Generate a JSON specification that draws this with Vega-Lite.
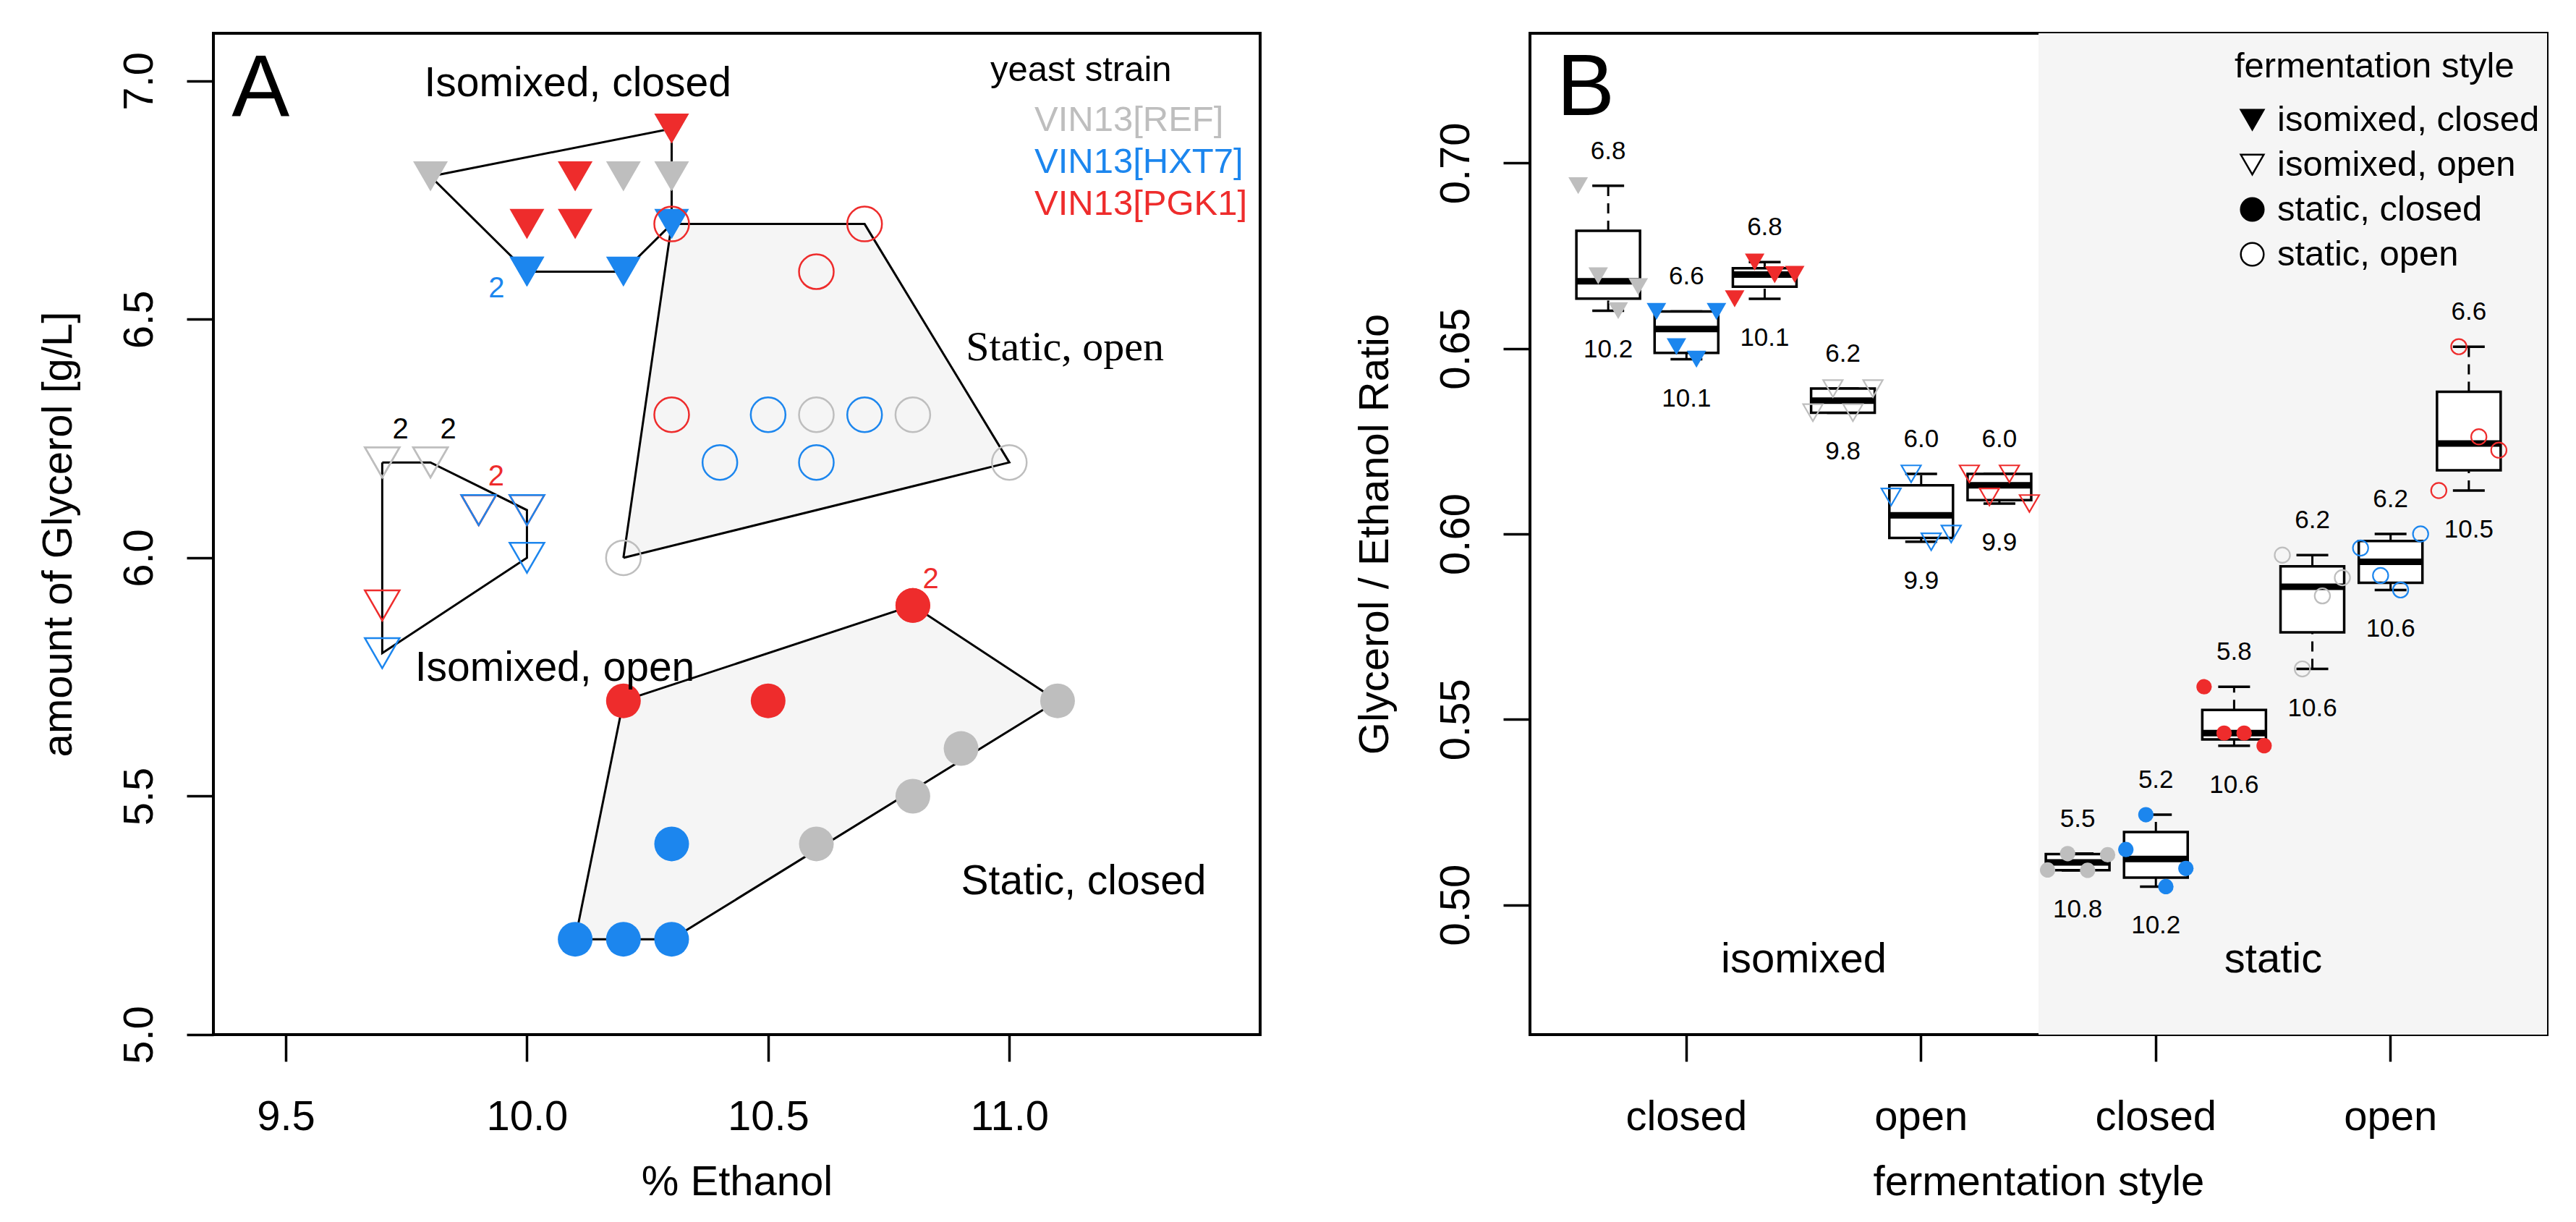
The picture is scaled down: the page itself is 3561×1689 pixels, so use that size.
{
  "$schema": "https://vega.github.io/schema/vega-lite/v6.json",
  "background": "white",
  "padding": {"left": 50, "top": 44, "right": 5, "bottom": 5},
  "bounds": "flush",
  "spacing": 373,
  "config": {
    "font": "Liberation Sans",
    "view": {"stroke": "black", "strokeWidth": 4, "fill": "white"},
    "axis": {
      "grid": false, "domain": false, "ticks": true, "tickSize": 37, "tickWidth": 3.5, "tickColor": "black",
      "labelFont": "Liberation Sans", "labelFontSize": 58, "labelColor": "black", "labelFlush": false, "labelOverlap": false,
      "titleFont": "Liberation Sans", "titleFontSize": 58, "titleFontWeight": "normal", "titleColor": "black"
    },
    "axisX": {"labelBaseline": "alphabetic", "labelPadding": 94, "labelAngle": 0, "titleBaseline": "alphabetic", "titleY": 221},
    "axisY": {"labelAngle": 270, "labelAlign": "center", "labelBaseline": "alphabetic", "labelPadding": 48, "titleAngle": 270, "titleBaseline": "alphabetic", "titleX": -197},
    "text": {"font": "Liberation Sans", "color": "black"}
  },
  "resolve": {
    "scale": {"color": "independent", "shape": "independent", "size": "independent", "fill": "independent", "stroke": "independent"},
    "legend": {"color": "independent", "shape": "independent", "size": "independent", "fill": "independent", "stroke": "independent"}
  },
  "datasets": {
    "ptsA": [
      {"style": "isomixed, closed", "strain": "VIN13[REF]", "ethanol": 9.8, "glycerol": 6.8},
      {"style": "isomixed, closed", "strain": "VIN13[REF]", "ethanol": 10.2, "glycerol": 6.8},
      {"style": "isomixed, closed", "strain": "VIN13[REF]", "ethanol": 10.3, "glycerol": 6.8},
      {"style": "isomixed, closed", "strain": "VIN13[REF]", "ethanol": 10.3, "glycerol": 6.9},
      {"style": "isomixed, closed", "strain": "VIN13[HXT7]", "ethanol": 10.0, "glycerol": 6.6},
      {"style": "isomixed, closed", "strain": "VIN13[HXT7]", "ethanol": 10.0, "glycerol": 6.6},
      {"style": "isomixed, closed", "strain": "VIN13[HXT7]", "ethanol": 10.2, "glycerol": 6.6},
      {"style": "isomixed, closed", "strain": "VIN13[HXT7]", "ethanol": 10.3, "glycerol": 6.7},
      {"style": "isomixed, closed", "strain": "VIN13[PGK1]", "ethanol": 10.0, "glycerol": 6.7},
      {"style": "isomixed, closed", "strain": "VIN13[PGK1]", "ethanol": 10.1, "glycerol": 6.7},
      {"style": "isomixed, closed", "strain": "VIN13[PGK1]", "ethanol": 10.1, "glycerol": 6.8},
      {"style": "isomixed, closed", "strain": "VIN13[PGK1]", "ethanol": 10.3, "glycerol": 6.9},
      {"style": "isomixed, open", "strain": "VIN13[REF]", "ethanol": 9.7, "glycerol": 6.2},
      {"style": "isomixed, open", "strain": "VIN13[REF]", "ethanol": 9.7, "glycerol": 6.2},
      {"style": "isomixed, open", "strain": "VIN13[REF]", "ethanol": 9.8, "glycerol": 6.2},
      {"style": "isomixed, open", "strain": "VIN13[REF]", "ethanol": 9.8, "glycerol": 6.2},
      {"style": "isomixed, open", "strain": "VIN13[PGK1]", "ethanol": 9.7, "glycerol": 5.9},
      {"style": "isomixed, open", "strain": "VIN13[PGK1]", "ethanol": 9.9, "glycerol": 6.1},
      {"style": "isomixed, open", "strain": "VIN13[PGK1]", "ethanol": 9.9, "glycerol": 6.1},
      {"style": "isomixed, open", "strain": "VIN13[PGK1]", "ethanol": 10.0, "glycerol": 6.1},
      {"style": "isomixed, open", "strain": "VIN13[HXT7]", "ethanol": 9.9, "glycerol": 6.1},
      {"style": "isomixed, open", "strain": "VIN13[HXT7]", "ethanol": 10.0, "glycerol": 6.1},
      {"style": "isomixed, open", "strain": "VIN13[HXT7]", "ethanol": 10.0, "glycerol": 6.0},
      {"style": "isomixed, open", "strain": "VIN13[HXT7]", "ethanol": 9.7, "glycerol": 5.8},
      {"style": "static, open", "strain": "VIN13[PGK1]", "ethanol": 10.3, "glycerol": 6.7},
      {"style": "static, open", "strain": "VIN13[PGK1]", "ethanol": 10.7, "glycerol": 6.7},
      {"style": "static, open", "strain": "VIN13[PGK1]", "ethanol": 10.6, "glycerol": 6.6},
      {"style": "static, open", "strain": "VIN13[PGK1]", "ethanol": 10.3, "glycerol": 6.3},
      {"style": "static, open", "strain": "VIN13[HXT7]", "ethanol": 10.5, "glycerol": 6.3},
      {"style": "static, open", "strain": "VIN13[HXT7]", "ethanol": 10.7, "glycerol": 6.3},
      {"style": "static, open", "strain": "VIN13[HXT7]", "ethanol": 10.4, "glycerol": 6.2},
      {"style": "static, open", "strain": "VIN13[HXT7]", "ethanol": 10.6, "glycerol": 6.2},
      {"style": "static, open", "strain": "VIN13[REF]", "ethanol": 10.6, "glycerol": 6.3},
      {"style": "static, open", "strain": "VIN13[REF]", "ethanol": 10.8, "glycerol": 6.3},
      {"style": "static, open", "strain": "VIN13[REF]", "ethanol": 11.0, "glycerol": 6.2},
      {"style": "static, open", "strain": "VIN13[REF]", "ethanol": 10.2, "glycerol": 6.0},
      {"style": "static, closed", "strain": "VIN13[PGK1]", "ethanol": 10.2, "glycerol": 5.7},
      {"style": "static, closed", "strain": "VIN13[PGK1]", "ethanol": 10.5, "glycerol": 5.7},
      {"style": "static, closed", "strain": "VIN13[PGK1]", "ethanol": 10.8, "glycerol": 5.9},
      {"style": "static, closed", "strain": "VIN13[PGK1]", "ethanol": 10.8, "glycerol": 5.9},
      {"style": "static, closed", "strain": "VIN13[REF]", "ethanol": 10.6, "glycerol": 5.4},
      {"style": "static, closed", "strain": "VIN13[REF]", "ethanol": 10.8, "glycerol": 5.5},
      {"style": "static, closed", "strain": "VIN13[REF]", "ethanol": 10.9, "glycerol": 5.6},
      {"style": "static, closed", "strain": "VIN13[REF]", "ethanol": 11.1, "glycerol": 5.7},
      {"style": "static, closed", "strain": "VIN13[HXT7]", "ethanol": 10.1, "glycerol": 5.2},
      {"style": "static, closed", "strain": "VIN13[HXT7]", "ethanol": 10.2, "glycerol": 5.2},
      {"style": "static, closed", "strain": "VIN13[HXT7]", "ethanol": 10.3, "glycerol": 5.2},
      {"style": "static, closed", "strain": "VIN13[HXT7]", "ethanol": 10.3, "glycerol": 5.4}
    ],
    "hulls": [
      {"hull": "isomixed, closed", "ord": 1, "ethanol": 9.8, "glycerol": 6.8},
      {"hull": "isomixed, closed", "ord": 2, "ethanol": 10.3, "glycerol": 6.9},
      {"hull": "isomixed, closed", "ord": 3, "ethanol": 10.3, "glycerol": 6.7},
      {"hull": "isomixed, closed", "ord": 4, "ethanol": 10.2, "glycerol": 6.6},
      {"hull": "isomixed, closed", "ord": 5, "ethanol": 10.0, "glycerol": 6.6},
      {"hull": "isomixed, closed", "ord": 6, "ethanol": 9.8, "glycerol": 6.8},
      {"hull": "isomixed, open", "ord": 1, "ethanol": 9.7, "glycerol": 6.2},
      {"hull": "isomixed, open", "ord": 2, "ethanol": 9.8, "glycerol": 6.2},
      {"hull": "isomixed, open", "ord": 3, "ethanol": 10.0, "glycerol": 6.1},
      {"hull": "isomixed, open", "ord": 4, "ethanol": 10.0, "glycerol": 6.0},
      {"hull": "isomixed, open", "ord": 5, "ethanol": 9.7, "glycerol": 5.8},
      {"hull": "isomixed, open", "ord": 6, "ethanol": 9.7, "glycerol": 6.2},
      {"hull": "static, open", "ord": 1, "ethanol": 10.2, "glycerol": 6.0},
      {"hull": "static, open", "ord": 2, "ethanol": 10.3, "glycerol": 6.7},
      {"hull": "static, open", "ord": 3, "ethanol": 10.7, "glycerol": 6.7},
      {"hull": "static, open", "ord": 4, "ethanol": 11.0, "glycerol": 6.2},
      {"hull": "static, open", "ord": 5, "ethanol": 10.2, "glycerol": 6.0},
      {"hull": "static, closed", "ord": 1, "ethanol": 10.1, "glycerol": 5.2},
      {"hull": "static, closed", "ord": 2, "ethanol": 10.2, "glycerol": 5.7},
      {"hull": "static, closed", "ord": 3, "ethanol": 10.8, "glycerol": 5.9},
      {"hull": "static, closed", "ord": 4, "ethanol": 11.1, "glycerol": 5.7},
      {"hull": "static, closed", "ord": 5, "ethanol": 10.3, "glycerol": 5.2},
      {"hull": "static, closed", "ord": 6, "ethanol": 10.1, "glycerol": 5.2}
    ],
    "countsA": [
      {"strain": "VIN13[REF]", "ethanol": 9.738, "glycerol": 6.269, "n": "2"},
      {"strain": "VIN13[REF]", "ethanol": 9.837, "glycerol": 6.269, "n": "2"},
      {"strain": "VIN13[PGK1]", "ethanol": 9.936, "glycerol": 6.17, "n": "2"},
      {"strain": "VIN13[HXT7]", "ethanol": 9.937, "glycerol": 6.564, "n": "2"},
      {"strain": "VIN13[PGK1]", "ethanol": 10.837, "glycerol": 5.955, "n": "2"}
    ],
    "notesA": [
      {"note": "Isomixed, closed", "face": "sans", "ethanol": 9.787, "glycerol": 6.994},
      {"note": "Isomixed, open", "face": "sans", "ethanol": 9.768, "glycerol": 5.768},
      {"note": "Static, closed", "face": "sans", "ethanol": 10.9, "glycerol": 5.32},
      {"note": "Static, open", "face": "serif", "ethanol": 10.91, "glycerol": 6.44},
      {"note": "A", "face": "letter", "ethanol": 9.388, "glycerol": 6.982}
    ],
    "ptsB": [
      {"group": "isomixed, closed / VIN13[REF]", "style": "isomixed, closed", "strain": "VIN13[REF]", "rep": 1, "ratio": 0.6939, "gly": "6.8", "eth": "10.2"},
      {"group": "isomixed, closed / VIN13[REF]", "style": "isomixed, closed", "strain": "VIN13[REF]", "rep": 2, "ratio": 0.6696, "gly": "6.8", "eth": "10.2"},
      {"group": "isomixed, closed / VIN13[REF]", "style": "isomixed, closed", "strain": "VIN13[REF]", "rep": 3, "ratio": 0.6602, "gly": "6.8", "eth": "10.2"},
      {"group": "isomixed, closed / VIN13[REF]", "style": "isomixed, closed", "strain": "VIN13[REF]", "rep": 4, "ratio": 0.6667, "gly": "6.8", "eth": "10.2"},
      {"group": "isomixed, closed / VIN13[HXT7]", "style": "isomixed, closed", "strain": "VIN13[HXT7]", "rep": 1, "ratio": 0.66, "gly": "6.6", "eth": "10.1"},
      {"group": "isomixed, closed / VIN13[HXT7]", "style": "isomixed, closed", "strain": "VIN13[HXT7]", "rep": 2, "ratio": 0.6505, "gly": "6.6", "eth": "10.1"},
      {"group": "isomixed, closed / VIN13[HXT7]", "style": "isomixed, closed", "strain": "VIN13[HXT7]", "rep": 3, "ratio": 0.6471, "gly": "6.6", "eth": "10.1"},
      {"group": "isomixed, closed / VIN13[HXT7]", "style": "isomixed, closed", "strain": "VIN13[HXT7]", "rep": 4, "ratio": 0.66, "gly": "6.6", "eth": "10.1"},
      {"group": "isomixed, closed / VIN13[PGK1]", "style": "isomixed, closed", "strain": "VIN13[PGK1]", "rep": 1, "ratio": 0.6634, "gly": "6.8", "eth": "10.1"},
      {"group": "isomixed, closed / VIN13[PGK1]", "style": "isomixed, closed", "strain": "VIN13[PGK1]", "rep": 2, "ratio": 0.6733, "gly": "6.8", "eth": "10.1"},
      {"group": "isomixed, closed / VIN13[PGK1]", "style": "isomixed, closed", "strain": "VIN13[PGK1]", "rep": 3, "ratio": 0.6699, "gly": "6.8", "eth": "10.1"},
      {"group": "isomixed, closed / VIN13[PGK1]", "style": "isomixed, closed", "strain": "VIN13[PGK1]", "rep": 4, "ratio": 0.67, "gly": "6.8", "eth": "10.1"},
      {"group": "isomixed, open / VIN13[REF]", "style": "isomixed, open", "strain": "VIN13[REF]", "rep": 1, "ratio": 0.6327, "gly": "6.2", "eth": "9.8"},
      {"group": "isomixed, open / VIN13[REF]", "style": "isomixed, open", "strain": "VIN13[REF]", "rep": 2, "ratio": 0.6392, "gly": "6.2", "eth": "9.8"},
      {"group": "isomixed, open / VIN13[REF]", "style": "isomixed, open", "strain": "VIN13[REF]", "rep": 3, "ratio": 0.6327, "gly": "6.2", "eth": "9.8"},
      {"group": "isomixed, open / VIN13[REF]", "style": "isomixed, open", "strain": "VIN13[REF]", "rep": 4, "ratio": 0.6392, "gly": "6.2", "eth": "9.8"},
      {"group": "isomixed, open / VIN13[HXT7]", "style": "isomixed, open", "strain": "VIN13[HXT7]", "rep": 1, "ratio": 0.61, "gly": "6.0", "eth": "9.9"},
      {"group": "isomixed, open / VIN13[HXT7]", "style": "isomixed, open", "strain": "VIN13[HXT7]", "rep": 2, "ratio": 0.6162, "gly": "6.0", "eth": "9.9"},
      {"group": "isomixed, open / VIN13[HXT7]", "style": "isomixed, open", "strain": "VIN13[HXT7]", "rep": 3, "ratio": 0.5979, "gly": "6.0", "eth": "9.9"},
      {"group": "isomixed, open / VIN13[HXT7]", "style": "isomixed, open", "strain": "VIN13[HXT7]", "rep": 4, "ratio": 0.6, "gly": "6.0", "eth": "9.9"},
      {"group": "isomixed, open / VIN13[PGK1]", "style": "isomixed, open", "strain": "VIN13[PGK1]", "rep": 1, "ratio": 0.6162, "gly": "6.0", "eth": "9.9"},
      {"group": "isomixed, open / VIN13[PGK1]", "style": "isomixed, open", "strain": "VIN13[PGK1]", "rep": 2, "ratio": 0.61, "gly": "6.0", "eth": "9.9"},
      {"group": "isomixed, open / VIN13[PGK1]", "style": "isomixed, open", "strain": "VIN13[PGK1]", "rep": 3, "ratio": 0.6162, "gly": "6.0", "eth": "9.9"},
      {"group": "isomixed, open / VIN13[PGK1]", "style": "isomixed, open", "strain": "VIN13[PGK1]", "rep": 4, "ratio": 0.6082, "gly": "6.0", "eth": "9.9"},
      {"group": "static, closed / VIN13[REF]", "style": "static, closed", "strain": "VIN13[REF]", "rep": 1, "ratio": 0.5094, "gly": "5.5", "eth": "10.8"},
      {"group": "static, closed / VIN13[REF]", "style": "static, closed", "strain": "VIN13[REF]", "rep": 2, "ratio": 0.5138, "gly": "5.5", "eth": "10.8"},
      {"group": "static, closed / VIN13[REF]", "style": "static, closed", "strain": "VIN13[REF]", "rep": 3, "ratio": 0.5093, "gly": "5.5", "eth": "10.8"},
      {"group": "static, closed / VIN13[REF]", "style": "static, closed", "strain": "VIN13[REF]", "rep": 4, "ratio": 0.5135, "gly": "5.5", "eth": "10.8"},
      {"group": "static, closed / VIN13[HXT7]", "style": "static, closed", "strain": "VIN13[HXT7]", "rep": 1, "ratio": 0.5149, "gly": "5.2", "eth": "10.2"},
      {"group": "static, closed / VIN13[HXT7]", "style": "static, closed", "strain": "VIN13[HXT7]", "rep": 2, "ratio": 0.5243, "gly": "5.2", "eth": "10.2"},
      {"group": "static, closed / VIN13[HXT7]", "style": "static, closed", "strain": "VIN13[HXT7]", "rep": 3, "ratio": 0.5049, "gly": "5.2", "eth": "10.2"},
      {"group": "static, closed / VIN13[HXT7]", "style": "static, closed", "strain": "VIN13[HXT7]", "rep": 4, "ratio": 0.5098, "gly": "5.2", "eth": "10.2"},
      {"group": "static, closed / VIN13[PGK1]", "style": "static, closed", "strain": "VIN13[PGK1]", "rep": 1, "ratio": 0.5588, "gly": "5.8", "eth": "10.6"},
      {"group": "static, closed / VIN13[PGK1]", "style": "static, closed", "strain": "VIN13[PGK1]", "rep": 2, "ratio": 0.5463, "gly": "5.8", "eth": "10.6"},
      {"group": "static, closed / VIN13[PGK1]", "style": "static, closed", "strain": "VIN13[PGK1]", "rep": 3, "ratio": 0.5463, "gly": "5.8", "eth": "10.6"},
      {"group": "static, closed / VIN13[PGK1]", "style": "static, closed", "strain": "VIN13[PGK1]", "rep": 4, "ratio": 0.5429, "gly": "5.8", "eth": "10.6"},
      {"group": "static, open / VIN13[REF]", "style": "static, open", "strain": "VIN13[REF]", "rep": 1, "ratio": 0.5943, "gly": "6.2", "eth": "10.6"},
      {"group": "static, open / VIN13[REF]", "style": "static, open", "strain": "VIN13[REF]", "rep": 2, "ratio": 0.5636, "gly": "6.2", "eth": "10.6"},
      {"group": "static, open / VIN13[REF]", "style": "static, open", "strain": "VIN13[REF]", "rep": 3, "ratio": 0.5833, "gly": "6.2", "eth": "10.6"},
      {"group": "static, open / VIN13[REF]", "style": "static, open", "strain": "VIN13[REF]", "rep": 4, "ratio": 0.5882, "gly": "6.2", "eth": "10.6"},
      {"group": "static, open / VIN13[HXT7]", "style": "static, open", "strain": "VIN13[HXT7]", "rep": 1, "ratio": 0.5962, "gly": "6.2", "eth": "10.6"},
      {"group": "static, open / VIN13[HXT7]", "style": "static, open", "strain": "VIN13[HXT7]", "rep": 2, "ratio": 0.5888, "gly": "6.2", "eth": "10.6"},
      {"group": "static, open / VIN13[HXT7]", "style": "static, open", "strain": "VIN13[HXT7]", "rep": 3, "ratio": 0.5849, "gly": "6.2", "eth": "10.6"},
      {"group": "static, open / VIN13[HXT7]", "style": "static, open", "strain": "VIN13[HXT7]", "rep": 4, "ratio": 0.6, "gly": "6.2", "eth": "10.6"},
      {"group": "static, open / VIN13[PGK1]", "style": "static, open", "strain": "VIN13[PGK1]", "rep": 1, "ratio": 0.6117, "gly": "6.6", "eth": "10.5"},
      {"group": "static, open / VIN13[PGK1]", "style": "static, open", "strain": "VIN13[PGK1]", "rep": 2, "ratio": 0.6505, "gly": "6.6", "eth": "10.5"},
      {"group": "static, open / VIN13[PGK1]", "style": "static, open", "strain": "VIN13[PGK1]", "rep": 3, "ratio": 0.6262, "gly": "6.6", "eth": "10.5"},
      {"group": "static, open / VIN13[PGK1]", "style": "static, open", "strain": "VIN13[PGK1]", "rep": 4, "ratio": 0.6226, "gly": "6.6", "eth": "10.5"}
    ],
    "notesB": [
      {"note": "isomixed", "kind": "region", "group": "isomixed, open / VIN13[REF]", "ratio": 0.485},
      {"note": "static", "kind": "region", "group": "static, open / VIN13[REF]", "ratio": 0.485},
      {"note": "B", "kind": "letter", "group": "isomixed, closed / VIN13[REF]", "ratio": 0.72}
    ],
    "shadeB": [
      {"g1": "static, closed / VIN13[REF]", "g2": "static, open / VIN13[PGK1]"}
    ]
  },
  "hconcat": [
    {
      "width": 1447,
      "height": 1384,
      "layer": [
        {
          "data": {"name": "hulls"},
          "transform": [{"filter": "indexof(datum.hull, 'static') >= 0"}],
          "mark": {"type": "line", "fill": "#F5F5F5", "stroke": "black", "strokeWidth": 3},
          "encoding": {
            "x": {"field": "ethanol", "type": "quantitative", "title": "% Ethanol", "scale": {"domain": [9.35, 11.52], "nice": false, "zero": false}, "axis": {"values": [9.5, 10, 10.5, 11], "format": ".1f"}},
            "y": {"field": "glycerol", "type": "quantitative", "title": "amount of Glycerol [g/L]", "scale": {"domain": [5.0, 7.1], "nice": false, "zero": false}, "axis": {"values": [5, 5.5, 6, 6.5, 7], "format": ".1f"}},
            "detail": {"field": "hull"},
            "order": {"field": "ord"}
          }
        },
        {
          "data": {"name": "hulls"},
          "transform": [{"filter": "indexof(datum.hull, 'isomixed') >= 0"}],
          "mark": {"type": "line", "stroke": "black", "strokeWidth": 3},
          "encoding": {
            "x": {"field": "ethanol", "type": "quantitative", "title": "% Ethanol"},
            "y": {"field": "glycerol", "type": "quantitative", "title": "amount of Glycerol [g/L]"},
            "detail": {"field": "hull"},
            "order": {"field": "ord"}
          }
        },
        {
          "data": {"name": "ptsA"},
          "transform": [{"filter": "indexof(datum.style, 'closed') >= 0"}],
          "mark": {"type": "point", "filled": true, "opacity": 1, "strokeWidth": 0},
          "encoding": {
            "x": {"field": "ethanol", "type": "quantitative", "title": "% Ethanol"},
            "y": {"field": "glycerol", "type": "quantitative", "title": "amount of Glycerol [g/L]"},
            "color": {
              "field": "strain", "type": "nominal",
              "scale": {"domain": ["VIN13[REF]", "VIN13[HXT7]", "VIN13[PGK1]"], "range": ["#BEBEBE", "#1C86EE", "#EE2C2C"]},
              "legend": {
                "title": "yeast strain", "orient": "none", "legendX": 1074, "legendY": 27, "padding": 0,
                "titleFont": "Liberation Sans", "titleFontSize": 49, "titleFontWeight": "normal", "titleColor": "black", "titlePadding": 19, "titleLimit": 0,
                "labelFont": "Liberation Sans", "labelFontSize": 49, "labelOffset": 12, "rowPadding": 8, "labelLimit": 0,
                "symbolSize": 1, "symbolOpacity": 0, "symbolStrokeWidth": 0,
                "encode": {"labels": {"update": {"fill": {"signal": "datum.value === 'VIN13[REF]' ? '#BEBEBE' : datum.value === 'VIN13[HXT7]' ? '#1C86EE' : '#EE2C2C'"}}}}
              }
            },
            "shape": {"field": "style", "type": "nominal", "scale": {"domain": ["isomixed, closed", "isomixed, open", "static, closed", "static, open"], "range": ["triangle-down", "triangle-down", "circle", "circle"]}, "legend": null},
            "size": {"field": "style", "type": "ordinal", "scale": {"domain": ["isomixed, closed", "isomixed, open", "static, closed", "static, open"], "range": [2304, 2304, 1444, 1444]}, "legend": null}
          }
        },
        {
          "data": {"name": "ptsA"},
          "transform": [{"filter": "indexof(datum.style, 'open') >= 0"}],
          "mark": {"type": "point", "filled": false, "opacity": 1, "strokeWidth": 2.5},
          "encoding": {
            "x": {"field": "ethanol", "type": "quantitative", "title": "% Ethanol"},
            "y": {"field": "glycerol", "type": "quantitative", "title": "amount of Glycerol [g/L]"},
            "color": {"field": "strain", "type": "nominal"},
            "shape": {"field": "style", "type": "nominal", "legend": null},
            "size": {"field": "style", "type": "ordinal", "legend": null}
          }
        },
        {
          "data": {"name": "countsA"},
          "mark": {"type": "text", "fontSize": 40, "align": "center", "baseline": "middle"},
          "encoding": {
            "x": {"field": "ethanol", "type": "quantitative", "title": "% Ethanol"},
            "y": {"field": "glycerol", "type": "quantitative", "title": "amount of Glycerol [g/L]"},
            "text": {"field": "n"},
            "fill": {"field": "strain", "type": "nominal", "scale": {"domain": ["VIN13[REF]", "VIN13[HXT7]", "VIN13[PGK1]"], "range": ["#000000", "#1C86EE", "#EE2C2C"]}, "legend": null}
          }
        },
        {
          "data": {"name": "notesA"},
          "transform": [{"filter": "datum.face === 'sans'"}],
          "mark": {"type": "text", "fontSize": 57, "align": "left", "baseline": "middle", "font": "Liberation Sans"},
          "encoding": {
            "x": {"field": "ethanol", "type": "quantitative", "title": "% Ethanol"},
            "y": {"field": "glycerol", "type": "quantitative", "title": "amount of Glycerol [g/L]"},
            "text": {"field": "note"}
          }
        },
        {
          "data": {"name": "notesA"},
          "transform": [{"filter": "datum.face === 'serif'"}],
          "mark": {"type": "text", "fontSize": 58, "align": "left", "baseline": "middle", "font": "Liberation Serif"},
          "encoding": {
            "x": {"field": "ethanol", "type": "quantitative", "title": "% Ethanol"},
            "y": {"field": "glycerol", "type": "quantitative", "title": "amount of Glycerol [g/L]"},
            "text": {"field": "note"}
          }
        },
        {
          "data": {"name": "notesA"},
          "transform": [{"filter": "datum.face === 'letter'"}],
          "mark": {"type": "text", "fontSize": 120, "align": "left", "baseline": "middle", "font": "Liberation Sans"},
          "encoding": {
            "x": {"field": "ethanol", "type": "quantitative", "title": "% Ethanol"},
            "y": {"field": "glycerol", "type": "quantitative", "title": "amount of Glycerol [g/L]"},
            "text": {"field": "note"}
          }
        }
      ]
    },
    {
      "width": 1406,
      "height": 1384,
      "layer": [
        {
          "data": {"name": "shadeB"},
          "mark": {"type": "rect", "fill": "#F5F5F5"},
          "encoding": {
            "x": {
              "field": "g1", "type": "nominal", "bandPosition": 0, "title": "fermentation style",
              "scale": {"domain": [
                "isomixed, closed / VIN13[REF]", "isomixed, closed / VIN13[HXT7]", "isomixed, closed / VIN13[PGK1]",
                "isomixed, open / VIN13[REF]", "isomixed, open / VIN13[HXT7]", "isomixed, open / VIN13[PGK1]",
                "static, closed / VIN13[REF]", "static, closed / VIN13[HXT7]", "static, closed / VIN13[PGK1]",
                "static, open / VIN13[REF]", "static, open / VIN13[HXT7]", "static, open / VIN13[PGK1]"],
                "paddingInner": 0, "paddingOuter": 0.5},
              "axis": {
                "values": ["isomixed, closed / VIN13[HXT7]", "isomixed, open / VIN13[HXT7]", "static, closed / VIN13[HXT7]", "static, open / VIN13[HXT7]"],
                "labelExpr": "indexof(datum.value, 'closed') >= 0 ? 'closed' : 'open'"
              }
            },
            "x2": {"field": "g2", "bandPosition": 1.5}
          }
        },
        {
          "data": {"name": "notesB"},
          "transform": [{"filter": "datum.kind === 'region'"}],
          "mark": {"type": "text", "fontSize": 58, "align": "center", "baseline": "middle"},
          "encoding": {
            "x": {"field": "group", "type": "nominal", "bandPosition": 0, "title": "fermentation style"},
            "y": {"field": "ratio", "type": "quantitative", "title": "Glycerol / Ethanol Ratio", "scale": {"domain": [0.465, 0.735], "nice": false, "zero": false}, "axis": {"values": [0.5, 0.55, 0.6, 0.65, 0.7], "format": ".2f"}},
            "text": {"field": "note"}
          }
        },
        {
          "data": {"name": "notesB"},
          "transform": [{"filter": "datum.kind === 'letter'"}],
          "mark": {"type": "text", "fontSize": 120, "align": "left", "baseline": "middle", "dx": -17},
          "encoding": {
            "x": {"field": "group", "type": "nominal", "bandPosition": 0, "title": "fermentation style"},
            "y": {"field": "ratio", "type": "quantitative", "title": "Glycerol / Ethanol Ratio"},
            "text": {"field": "note"}
          }
        },
        {
          "data": {"name": "ptsB"},
          "transform": [
            {"window": [{"op": "row_number", "as": "rn"}, {"op": "mean", "field": "ratio", "as": "m"}], "frame": [0, 1], "ignorePeers": true, "groupby": ["group"], "sort": [{"field": "ratio", "order": "ascending"}]},
            {"window": [{"op": "lead", "field": "m", "param": 1, "as": "med"}, {"op": "lead", "field": "m", "param": 2, "as": "hi"}, {"op": "lead", "field": "ratio", "param": 3, "as": "mx"}], "groupby": ["group"], "sort": [{"field": "rn", "order": "ascending"}]},
            {"filter": "datum.rn === 1"}
          ],
          "layer": [
            {
              "mark": {"type": "rule", "color": "black", "strokeWidth": 3, "strokeDash": [14, 10]},
              "encoding": {
                "x": {"field": "group", "type": "nominal", "title": "fermentation style"},
                "y": {"field": "ratio", "type": "quantitative", "title": "Glycerol / Ethanol Ratio"},
                "y2": {"field": "m"}
              }
            },
            {
              "mark": {"type": "rule", "color": "black", "strokeWidth": 3, "strokeDash": [14, 10]},
              "encoding": {
                "x": {"field": "group", "type": "nominal", "title": "fermentation style"},
                "y": {"field": "hi", "type": "quantitative", "title": "Glycerol / Ethanol Ratio"},
                "y2": {"field": "mx"}
              }
            },
            {
              "mark": {"type": "tick", "color": "black", "size": 44, "thickness": 3.5, "opacity": 1},
              "encoding": {
                "x": {"field": "group", "type": "nominal", "title": "fermentation style"},
                "y": {"field": "ratio", "type": "quantitative", "title": "Glycerol / Ethanol Ratio"}
              }
            },
            {
              "mark": {"type": "tick", "color": "black", "size": 44, "thickness": 3.5, "opacity": 1},
              "encoding": {
                "x": {"field": "group", "type": "nominal", "title": "fermentation style"},
                "y": {"field": "mx", "type": "quantitative", "title": "Glycerol / Ethanol Ratio"}
              }
            },
            {
              "mark": {"type": "bar", "size": 88, "fill": "white", "stroke": "black", "strokeWidth": 3.5},
              "encoding": {
                "x": {"field": "group", "type": "nominal", "title": "fermentation style"},
                "y": {"field": "m", "type": "quantitative", "title": "Glycerol / Ethanol Ratio"},
                "y2": {"field": "hi"}
              }
            },
            {
              "mark": {"type": "tick", "color": "black", "size": 88, "thickness": 9, "opacity": 1},
              "encoding": {
                "x": {"field": "group", "type": "nominal", "title": "fermentation style"},
                "y": {"field": "med", "type": "quantitative", "title": "Glycerol / Ethanol Ratio"}
              }
            },
            {
              "mark": {"type": "text", "fontSize": 35, "dy": -48, "align": "center", "baseline": "middle"},
              "encoding": {
                "x": {"field": "group", "type": "nominal", "title": "fermentation style"},
                "y": {"field": "mx", "type": "quantitative", "title": "Glycerol / Ethanol Ratio"},
                "text": {"field": "gly"}
              }
            },
            {
              "mark": {"type": "text", "fontSize": 35, "dy": 54, "align": "center", "baseline": "middle"},
              "encoding": {
                "x": {"field": "group", "type": "nominal", "title": "fermentation style"},
                "y": {"field": "ratio", "type": "quantitative", "title": "Glycerol / Ethanol Ratio"},
                "text": {"field": "eth"}
              }
            }
          ]
        },
        {
          "data": {"name": "ptsB"},
          "mark": {"type": "point", "filled": true, "size": 0, "strokeWidth": 2.5, "opacity": 1},
          "encoding": {
            "x": {"field": "group", "type": "nominal", "title": "fermentation style"},
            "y": {"field": "ratio", "type": "quantitative", "title": "Glycerol / Ethanol Ratio"},
            "shape": {
              "field": "style", "type": "nominal",
              "scale": {"domain": ["isomixed, closed", "isomixed, open", "static, closed", "static, open"], "range": ["triangle-down", "triangle-down", "circle", "circle"]},
              "legend": {
                "title": "fermentation style", "orient": "none", "legendX": 974, "legendY": 22, "padding": 0,
                "titleFont": "Liberation Sans", "titleFontSize": 49, "titleFontWeight": "normal", "titleColor": "black", "titlePadding": 24, "titleLimit": 0,
                "labelFont": "Liberation Sans", "labelFontSize": 49, "labelColor": "black", "labelOffset": 10, "rowPadding": 12, "labelLimit": 0,
                "symbolSize": 1000, "symbolOpacity": 1, "symbolStrokeWidth": 2.5, "symbolStrokeColor": "black"
              }
            },
            "fill": {
              "field": "style", "type": "nominal",
              "scale": {"domain": ["isomixed, closed", "isomixed, open", "static, closed", "static, open"], "range": ["#000000", "#FFFFFF", "#000000", "#FFFFFF"]},
              "legend": {
                "title": "fermentation style", "orient": "none", "legendX": 974, "legendY": 22, "padding": 0,
                "titleFont": "Liberation Sans", "titleFontSize": 49, "titleFontWeight": "normal", "titleColor": "black", "titlePadding": 24, "titleLimit": 0,
                "labelFont": "Liberation Sans", "labelFontSize": 49, "labelColor": "black", "labelOffset": 10, "rowPadding": 12, "labelLimit": 0,
                "symbolSize": 1000, "symbolOpacity": 1, "symbolStrokeWidth": 2.5, "symbolStrokeColor": "black"
              }
            },
            "stroke": {
              "field": "style", "type": "nominal",
              "scale": {"domain": ["isomixed, closed", "isomixed, open", "static, closed", "static, open"], "range": ["#000000", "#000000", "#000000", "#000000"]},
              "legend": {
                "title": "fermentation style", "orient": "none", "legendX": 974, "legendY": 22, "padding": 0,
                "titleFont": "Liberation Sans", "titleFontSize": 49, "titleFontWeight": "normal", "titleColor": "black", "titlePadding": 24, "titleLimit": 0,
                "labelFont": "Liberation Sans", "labelFontSize": 49, "labelColor": "black", "labelOffset": 10, "rowPadding": 12, "labelLimit": 0,
                "symbolSize": 1000, "symbolOpacity": 1, "symbolStrokeWidth": 2.5, "symbolStrokeColor": "black"
              }
            }
          }
        },
        {
          "data": {"name": "ptsB"},
          "transform": [{"filter": "datum.style === 'isomixed, closed'"}],
          "mark": {"type": "point", "shape": "triangle-down", "filled": true, "opacity": 1, "strokeWidth": 0, "size": 730},
          "encoding": {
            "x": {"field": "group", "type": "nominal", "title": "fermentation style"},
            "xOffset": {"field": "rep", "type": "nominal", "scale": {"paddingInner": 0, "paddingOuter": 0.4545}},
            "y": {"field": "ratio", "type": "quantitative", "title": "Glycerol / Ethanol Ratio"},
            "color": {"field": "strain", "type": "nominal", "scale": {"domain": ["VIN13[REF]", "VIN13[HXT7]", "VIN13[PGK1]"], "range": ["#BEBEBE", "#1C86EE", "#EE2C2C"]}, "legend": null}
          }
        },
        {
          "data": {"name": "ptsB"},
          "transform": [{"filter": "datum.style === 'static, closed'"}],
          "mark": {"type": "point", "shape": "circle", "filled": true, "opacity": 1, "strokeWidth": 0, "size": 450},
          "encoding": {
            "x": {"field": "group", "type": "nominal", "title": "fermentation style"},
            "xOffset": {"field": "rep", "type": "nominal"},
            "y": {"field": "ratio", "type": "quantitative", "title": "Glycerol / Ethanol Ratio"},
            "color": {"field": "strain", "type": "nominal", "legend": null}
          }
        },
        {
          "data": {"name": "ptsB"},
          "transform": [{"filter": "datum.style === 'isomixed, open'"}],
          "mark": {"type": "point", "shape": "triangle-down", "filled": false, "opacity": 1, "strokeWidth": 2.2, "size": 730},
          "encoding": {
            "x": {"field": "group", "type": "nominal", "title": "fermentation style"},
            "xOffset": {"field": "rep", "type": "nominal"},
            "y": {"field": "ratio", "type": "quantitative", "title": "Glycerol / Ethanol Ratio"},
            "color": {"field": "strain", "type": "nominal", "legend": null}
          }
        },
        {
          "data": {"name": "ptsB"},
          "transform": [{"filter": "datum.style === 'static, open'"}],
          "mark": {"type": "point", "shape": "circle", "filled": false, "opacity": 1, "strokeWidth": 2.2, "size": 450},
          "encoding": {
            "x": {"field": "group", "type": "nominal", "title": "fermentation style"},
            "xOffset": {"field": "rep", "type": "nominal"},
            "y": {"field": "ratio", "type": "quantitative", "title": "Glycerol / Ethanol Ratio"},
            "color": {"field": "strain", "type": "nominal", "legend": null}
          }
        }
      ]
    }
  ]
}
